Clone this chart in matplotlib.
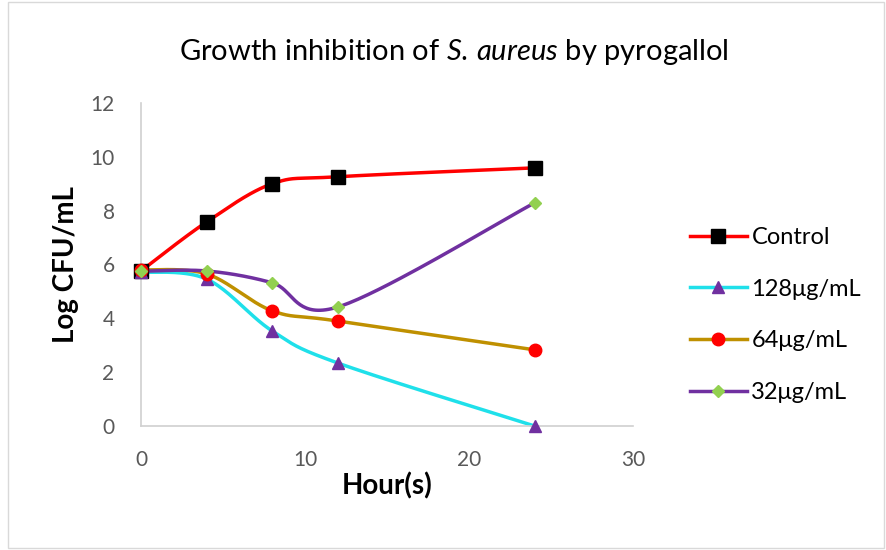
import matplotlib.pyplot as plt
import numpy as np
from matplotlib.lines import Line2D
from matplotlib.patches import Rectangle

hours = [0, 4, 8, 12, 24]
control = [5.76, 7.58, 9.0, 9.26, 9.59]
conc_128 = [5.72, 5.46, 3.53, 2.34, 0.0]
conc_64 = [5.80, 5.65, 4.28, 3.90, 2.83]
conc_32 = [5.75, 5.76, 5.32, 4.42, 8.29]
labels = ['Control', '128\u03bcg/mL', '64\u03bcg/mL', '32\u03bcg/mL']

plt.rcParams['font.family'] = ['Lato', 'DejaVu Sans']
plt.rcParams['mathtext.fontset'] = 'custom'
plt.rcParams['mathtext.rm'] = 'Lato'
plt.rcParams['mathtext.it'] = 'Lato:italic'


def smooth(x, y, n=40):
    # bezier spline with Catmull-Rom handles, like spreadsheet "smoothed line"
    p = np.column_stack([x, y]).astype(float)
    ext = np.vstack([p[0], p, p[-1]])
    out = []
    t = np.linspace(0, 1, n)[:, None]
    for i in range(len(p) - 1):
        p0, p3 = p[i], p[i + 1]
        p1 = p0 + (ext[i + 2] - ext[i]) / 6
        p2 = p3 - (ext[i + 3] - ext[i + 1]) / 6
        seg = ((1 - t) ** 3) * p0 + 3 * ((1 - t) ** 2) * t * p1 + 3 * (1 - t) * t ** 2 * p2 + t ** 3 * p3
        out.append(seg)
    out = np.vstack(out)
    return out[:, 0], out[:, 1]


fig = plt.figure(figsize=(8.86, 5.5), dpi=100)
ax = fig.add_axes([141 / 886, 1 - 426 / 550, 492 / 886, 323 / 550])

series = [
    (control, 'red', 's', 'black', 10),
    (conc_128, '#1fe0ea', '^', '#7030a0', 8),
    (conc_64, '#bf9000', 'o', 'red', 9),
    (conc_32, '#7030a0', 'D', '#92d050', 6.5),
]
handles = []
for (vals, lc, mk, mc, ms), lab in zip(series, labels):
    sx, sy = smooth(hours, vals)
    ax.plot(sx, sy, color=lc, lw=2.5, zorder=2, clip_on=False)
    ax.plot(hours, vals, ls='none', marker=mk, color=mc, markersize=ms, zorder=3, clip_on=False)
    handles.append(Line2D([], [], color=lc, lw=2.5, marker=mk, markerfacecolor=mc,
                          markeredgecolor=mc, markersize=ms))

ax.set_xlim(0, 30)
ax.set_ylim(0, 12)
ax.set_xticks([0, 10, 20, 30])
ax.set_yticks(range(0, 13, 2))
for s in ['top', 'right']:
    ax.spines[s].set_visible(False)
for s in ['left', 'bottom']:
    ax.spines[s].set_color('#d0d0d0')
    ax.spines[s].set_linewidth(1.2)
ax.tick_params(length=0, labelsize=15, colors='#595959')
ax.tick_params(axis='y', pad=19)
ax.tick_params(axis='x', pad=17)

ax.set_xlabel('Hour(s)', fontsize=20, fontweight='bold', labelpad=2)
ax.set_ylabel('Log CFU/mL', fontsize=20, fontweight='bold', labelpad=8)
fig.text(454 / 886, 1 - 52 / 550, 'Growth inhibition of $\\mathit{S.\\,aureus}$ by pyrogallol',
         ha='center', va='center', fontsize=21)

fig.legend(handles, labels, loc='center left', bbox_to_anchor=(690 / 886, 1 - 315 / 550),
           frameon=False, fontsize=17, handlelength=2.4, labelspacing=1.3, handletextpad=0.2,
           borderpad=0, borderaxespad=0)

fig.patches.append(Rectangle((8 / 886, 2 / 550), 876 / 886, 546 / 550, transform=fig.transFigure,
                             fill=False, edgecolor='#d9d9d9', lw=1))

fig.savefig('out.png', dpi=100)
